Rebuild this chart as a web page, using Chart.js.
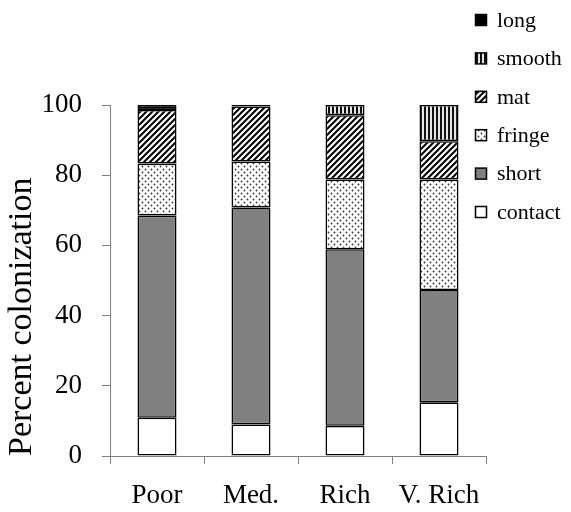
<!DOCTYPE html>
<html>
<head>
<meta charset="utf-8">
<script src="https://cdn.jsdelivr.net/npm/chart.js@4.4.1/dist/chart.umd.min.js"></script>
<style>
  html, body { margin: 0; padding: 0; background: #fff; }
  #c { display: block; }
</style>
</head>
<body>
<canvas id="c" width="571" height="512"></canvas>
<script>
// Colonization type shares (percent) per site category, stacked bottom to top
const categories = ['Poor', 'Med.', 'Rich', 'V. Rich'];
const contact = [10.9, 9.0, 8.6, 15.3];
const short   = [57.6, 61.8, 50.3, 32.0];
const fringe  = [14.8, 13.1, 19.9, 31.5];
const mat     = [15.3, 15.7, 18.3, 10.9];
const smooth  = [0, 0, 2.9, 10.3];
const long    = [1.4, 0.4, 0, 0];
const yMin = 0, yMax = 100, yStep = 20;

const FONT = '"Liberation Serif", "Times New Roman", serif';
const canvas = document.getElementById('c');
const ctx = canvas.getContext('2d');

// Small repeating tiles used as hatch fills
function makePattern(w, h, draw) {
  const t = document.createElement('canvas');
  t.width = w; t.height = h;
  const g = t.getContext('2d');
  g.fillStyle = '#fff';
  g.fillRect(0, 0, w, h);
  draw(g, w, h);
  return ctx.createPattern(t, 'repeat');
}

const dotFill = makePattern(6, 6, g => {
  g.fillStyle = '#333';
  g.beginPath(); g.arc(1.5, 1.5, 0.9, 0, Math.PI * 2); g.fill();
  g.beginPath(); g.arc(4.5, 4.5, 0.9, 0, Math.PI * 2); g.fill();
});

const diagFill = makePattern(6, 6, g => {
  g.strokeStyle = '#000';
  g.lineWidth = 2;
  g.beginPath();
  g.moveTo(-1, 7); g.lineTo(7, -1);
  g.moveTo(-4, 4); g.lineTo(4, -4);
  g.moveTo(2, 10); g.lineTo(10, 2);
  g.stroke();
});

const vertFill = makePattern(4, 4, g => {
  g.fillStyle = '#e6e6e6';
  g.fillRect(0, 0, 4, 4);
  g.fillStyle = '#111';
  g.fillRect(0, 0, 2, 4);
});

const baseSet = {
  borderColor: '#000',
  borderWidth: 1.6,
  borderSkipped: false,
  barPercentage: 0.83,
  categoryPercentage: 0.5
};

const datasets = [
  { label: 'contact', data: contact, backgroundColor: '#ffffff' },
  { label: 'short',   data: short,   backgroundColor: '#808080' },
  { label: 'fringe',  data: fringe,  backgroundColor: dotFill },
  { label: 'mat',     data: mat,     backgroundColor: diagFill },
  { label: 'smooth',  data: smooth,  backgroundColor: vertFill },
  { label: 'long',    data: long,    backgroundColor: '#000000' }
].map(d => Object.assign({}, baseSet, d));

// Vertical key in the upper right, top entry = top of the stack
const sideLegend = {
  id: 'sideLegend',
  afterDraw(chart) {
    const c = chart.ctx;
    const sets = chart.data.datasets;
    const top = 20, step = 38.4, boxX = 475.5, box = 11, textX = 497;
    c.save();
    c.font = '22px ' + FONT;
    c.textBaseline = 'middle';
    c.textAlign = 'left';
    for (let i = 0; i < sets.length; i++) {
      const d = sets[sets.length - 1 - i];
      const y = top + i * step;
      c.fillStyle = d.backgroundColor;
      c.fillRect(boxX, y - box / 2, box, box);
      c.strokeStyle = '#000';
      c.lineWidth = 1.5;
      c.strokeRect(boxX, y - box / 2, box, box);
      c.fillStyle = '#000';
      c.fillText(d.label, textX, y + 1);
    }
    c.restore();
  }
};

new Chart(ctx, {
  type: 'bar',
  data: { labels: categories, datasets },
  plugins: [sideLegend],
  options: {
    responsive: false,
    animation: false,
    devicePixelRatio: 1,
    layout: { padding: { left: 0, right: 85, top: 105, bottom: 0 } },
    plugins: {
      legend: { display: false },
      tooltip: { enabled: false }
    },
    scales: {
      x: {
        stacked: true,
        offset: true,
        grid: {
          offset: true,
          drawOnChartArea: false,
          drawTicks: true,
          tickLength: 8,
          color: '#808080',
          lineWidth: 1
        },
        border: { display: true, color: '#808080', width: 1 },
        ticks: {
          color: '#000',
          padding: 16,
          font: { family: FONT, size: 27 },
          maxRotation: 0
        },
        afterFit(scale) { scale.height = 56; }
      },
      y: {
        stacked: true,
        min: yMin,
        max: yMax,
        grid: {
          drawOnChartArea: false,
          drawTicks: true,
          tickLength: 8,
          color: '#808080',
          lineWidth: 1
        },
        border: { display: true, color: '#808080', width: 1 },
        ticks: {
          stepSize: yStep,
          color: '#000',
          padding: 20,
          font: { family: FONT, size: 27 }
        },
        title: {
          display: true,
          text: 'Percent colonization',
          align: 'start',
          color: '#000',
          font: { family: FONT, size: 34 },
          padding: { top: 2, bottom: 0 }
        },
        afterFit(scale) { scale.width = 110; }
      }
    }
  }
});
</script>
</body>
</html>
